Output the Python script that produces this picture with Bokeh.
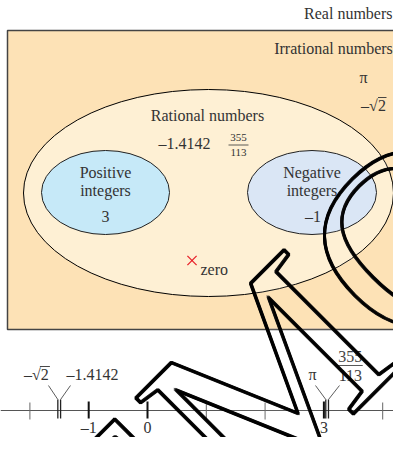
import math
from bokeh.plotting import figure
from bokeh.models import Range1d
from bokeh.core.properties import value
from bokeh.embed import file_html
from bokeh.resources import INLINE

# ---------------- data ----------------
outer_set = "Real numbers"
irrational_title = "Irrational numbers"
irrational_members = ["π", "–√2"]
rational_title = "Rational numbers"
rational_decimal = "–1.4142"
fraction_num = "355"
fraction_den = "113"
subset_titles = [["Positive", "integers"], ["Negative", "integers"]]
subset_members = ["3", "–1"]
zero_label = "zero"

tick_values = [-2, -1, 0, 1, 2, 3, 4]
labeled_ticks = [-1, 0, 3]
tick_labels = ["–1", "0", "3"]
mark_names = ["–√2", "–1.4142", "π", "355/113"]
mark_values = [-1.525, -1.478, 3.032, 3.078]
watermark = "DEMO"

# ---------------- layout / style ----------------
W, H = 393, 437
SERIF = value("Liberation Serif")
TXT = "#333333"
NUM_ORIGIN_PX = 147.0
NUM_UNIT_PX = 58.8
LINE_Y = 410

p = figure(width=W, height=H, output_backend="svg", toolbar_location=None,
           x_range=Range1d(0, W), y_range=Range1d(H, 0),
           x_axis_type=None, y_axis_type=None, min_border=0)
p.grid.visible = False
p.outline_line_color = None
p.background_fill_color = "white"
p.border_fill_color = "white"
p.extra_x_ranges = {"num": Range1d((0 - NUM_ORIGIN_PX) / NUM_UNIT_PX,
                                   (W - NUM_ORIGIN_PX) / NUM_UNIT_PX)}

def txt(x, y, s, size="16px", align="center", baseline="middle", color=TXT, xr="default"):
    p.text(x=[x], y=[y], text=[s], text_font=SERIF, text_font_size=value(size),
           text_align=align, text_baseline=baseline, text_color=color, x_range_name=xr)

# ---- Real numbers box ----
p.quad(left=[7], right=[480], top=[30], bottom=[329],
       fill_color="#FDE2B6", line_color="#444444", line_width=1.5)
txt(392, 13, outer_set, align="right")

# irrational
txt(333, 48, irrational_title)
txt(363, 77, irrational_members[0])
txt(373, 105, irrational_members[1])
p.segment(x0=[377.5], y0=[97], x1=[386], y1=[97], line_color=TXT, line_width=0.9)

# rational ellipse
p.ellipse(x=[208], y=[192.5], width=[370], height=[207],
          fill_color="#FEF0D4", line_color="black", line_width=1)
txt(207, 115, rational_title)
txt(184, 143, rational_decimal)
txt(238, 137, fraction_num, size="11px")
txt(238, 152, fraction_den, size="11px")
p.segment(x0=[228], y0=[144.5], x1=[248], y1=[144.5], line_color=TXT, line_width=0.8)

# subsets
sub_x = [105, 311.5]
sub_fill = ["#C6E9F8", "#DAE6F5"]
p.ellipse(x=sub_x, y=[192, 192], width=[128, 129], height=[84, 84],
          fill_color=sub_fill, line_color="#222222", line_width=1)
for i in range(2):
    txt(sub_x[i], 172, subset_titles[i][0])
    txt(sub_x[i], 190, subset_titles[i][1])
    txt(sub_x[i] + (1 if i else 0), 216, subset_members[i])

# zero
p.scatter(x=[191.5], y=[260], marker="x", size=13, line_color="#E8232B", line_width=1.3)
txt(200, 269, zero_label, align="left")

# ---- number line ----
dy = LINE_Y - 418
p.segment(x0=[0], y0=[LINE_Y], x1=[W], y1=[LINE_Y], line_color="#555555", line_width=1.2)
minor = [t for t in tick_values if t not in labeled_ticks]
p.segment(x0=minor, y0=[410 + dy] * len(minor), x1=minor, y1=[427 + dy] * len(minor),
          line_color="#666666", line_width=1, x_range_name="num")
p.segment(x0=labeled_ticks, y0=[409 + dy] * 3, x1=labeled_ticks, y1=[426 + dy] * 3,
          line_color="#111111", line_width=2, x_range_name="num")
for t, s in zip(labeled_ticks, tick_labels):
    txt(t, 427, s, xr="num")
p.segment(x0=mark_values, y0=[407 + dy] * 4, x1=mark_values, y1=[426 + dy] * 4,
          line_color="#222222", line_width=1.3, x_range_name="num")

label_x = [-1.89, -0.935, 2.806, 3.45]
conn_top_x = [-1.684, -1.31, 2.857, 3.265]
p.segment(x0=conn_top_x, y0=[393 + dy] * 4, x1=mark_values, y1=[407 + dy] * 4,
          line_color="#333333", line_width=0.8, x_range_name="num")
txt(label_x[0], 382 + dy, mark_names[0], xr="num")
p.segment(x0=[label_x[0] + 0.06], y0=[374 + dy], x1=[label_x[0] + 0.23], y1=[374 + dy],
          line_color=TXT, line_width=0.9, x_range_name="num")
txt(label_x[1], 382 + dy, mark_names[1], xr="num")
txt(label_x[2], 382 + dy, mark_names[2], xr="num")
num, den = mark_names[3].split("/")
txt(label_x[3], 364 + dy, num, xr="num")
txt(label_x[3], 383 + dy, den, xr="num")
p.segment(x0=[label_x[3] - 0.21], y0=[373 + dy], x1=[label_x[3] + 0.21], y1=[373 + dy],
          line_color=TXT, line_width=0.9, x_range_name="num")

# ---- watermark (outlined, rotated; thickened by 1px offsets) ----
wx, wy = -50.6, 696.6
offs = [(ox, oy) for ox in (-1, 0, 1) for oy in (-1, 0, 1)]
p.text(x=[wx + o[0] for o in offs], y=[wy + o[1] for o in offs],
       text=[watermark] * len(offs), angle=math.pi / 4,
       text_font=SERIF, text_font_size=value("252px"),
       text_align="left", text_baseline="alphabetic",
       text_color="rgba(255,255,255,0.01)", text_outline_color="black")

open("out.html", "w").write(file_html(p, INLINE))
